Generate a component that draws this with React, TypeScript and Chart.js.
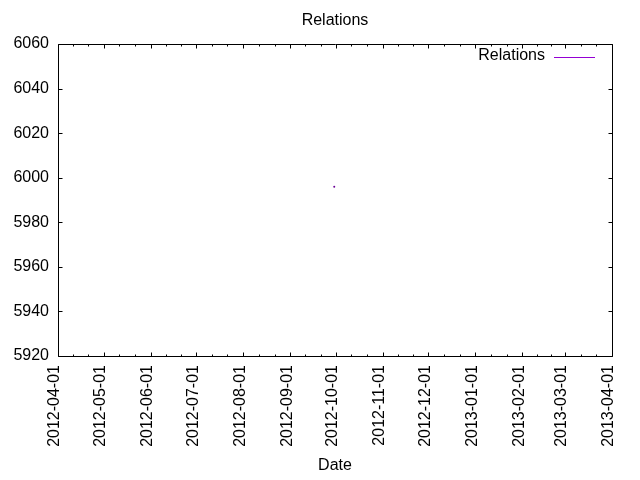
import React, { useEffect, useRef } from 'react';
import { Chart, registerables } from 'chart.js';

Chart.register(...registerables);

// x axis tick labels (month starts)
const monthLabels = [
  '2012-04-01', '2012-05-01', '2012-06-01', '2012-07-01', '2012-08-01', '2012-09-01',
  '2012-10-01', '2012-11-01', '2012-12-01', '2013-01-01', '2013-02-01', '2013-03-01', '2013-04-01',
];
// the single sample
const sampleDates = ['2012-09-30'];
const relationsValues = [5996];

const yMin = 5920;
const yMax = 6060;
const yStep = 20;

const DAY = 86400000;
const origin = Date.parse(monthLabels[0] + 'T00:00:00Z');
const toDays = (d: string) => (Date.parse(d + 'T00:00:00Z') - origin) / DAY;
const monthDays = monthLabels.map(toDays);

const FONT = "'Liberation Sans', Arial, sans-serif";
const FS = 16;
const LINE = '#9400d3';
const TITLE = 'Relations';

const framePlugin = {
  id: 'gnuFrame',
  afterDraw(chart: any) {
    const ctx = chart.ctx;
    const { left, right, top, bottom } = chart.chartArea;
    const xs = chart.scales.x;
    const ys = chart.scales.y;
    const px = (v: number) => Math.round(v) + 0.5;
    ctx.save();
    ctx.strokeStyle = '#000';
    ctx.lineWidth = 1;
    ctx.beginPath();
    ctx.rect(px(left), px(top), Math.round(right) - Math.round(left), Math.round(bottom) - Math.round(top));
    // x ticks (major + 2 minor per month), bottom and top, pointing inward
    monthDays.forEach((d, i) => {
      const x = px(xs.getPixelForValue(d));
      ctx.moveTo(x, px(bottom)); ctx.lineTo(x, px(bottom) - 4);
      ctx.moveTo(x, px(top)); ctx.lineTo(x, px(top) + 4);
      if (i < monthDays.length - 1) {
        const next = monthDays[i + 1];
        for (let k = 1; k < 3; k++) {
          const mx = px(xs.getPixelForValue(d + ((next - d) * k) / 3));
          ctx.moveTo(mx, px(bottom)); ctx.lineTo(mx, px(bottom) - 2);
          ctx.moveTo(mx, px(top)); ctx.lineTo(mx, px(top) + 2);
        }
      }
    });
    // y ticks, left and right
    for (let v = yMin; v <= yMax; v += yStep) {
      const y = px(ys.getPixelForValue(v));
      ctx.moveTo(px(left), y); ctx.lineTo(px(left) + 4, y);
      ctx.moveTo(px(right), y); ctx.lineTo(px(right) - 4, y);
    }
    ctx.stroke();

    ctx.font = `${FS}px ${FONT}`;
    ctx.fillStyle = '#000';
    ctx.textBaseline = 'middle';

    // title centred over the plot area
    ctx.textAlign = 'center';
    ctx.fillText(TITLE, (left + right) / 2, 21);

    // legend inside top right
    const label = chart.data.datasets[0].label;
    ctx.textAlign = 'right';
    ctx.fillText(label, right - 67, top + 12);
    ctx.strokeStyle = LINE;
    ctx.beginPath();
    ctx.moveTo(right - 58, px(top + 13));
    ctx.lineTo(right - 17, px(top + 13));
    ctx.stroke();
    ctx.restore();
  },
};

const App: React.FC = () => {
  const chartRef = useRef<HTMLCanvasElement>(null);

  useEffect(() => {
    document.body.style.margin = '0';
    if (!chartRef.current) return;

    const chart = new Chart(chartRef.current, {
      type: 'scatter',
      data: {
        datasets: [
          {
            label: 'Relations',
            data: sampleDates.map((d, i) => ({ x: toDays(d), y: relationsValues[i] })),
            borderColor: '#6a0096',
            backgroundColor: '#6a0096',
            pointRadius: 1,
            borderWidth: 0,
          },
        ],
      },
      options: {
        animation: false,
        responsive: true,
        maintainAspectRatio: false,
        layout: { padding: { left: 0, right: 28, top: 44, bottom: 0 } },
        plugins: {
          legend: { display: false },
          tooltip: { enabled: false },
          title: { display: false },
        },
        scales: {
          x: {
            type: 'linear',
            min: 0,
            max: monthDays[monthDays.length - 1],
            border: { display: false },
            grid: { display: false },
            afterBuildTicks: (scale: any) => {
              scale.ticks = monthDays.map((v) => ({ value: v }));
            },
            afterFit: (scale: any) => {
              scale.height = 124;
            },
            ticks: {
              autoSkip: false,
              minRotation: 90,
              maxRotation: 90,
              padding: 1,
              labelOffset: -3,
              color: '#000',
              font: { family: FONT, size: FS },
              callback: (value: any) => {
                const i = monthDays.indexOf(Number(value));
                return i >= 0 ? monthLabels[i] : '';
              },
            },
            title: {
              display: true,
              text: 'Date',
              color: '#000',
              font: { family: FONT, size: FS, lineHeight: 1.2 },
              padding: { top: 0, bottom: 5 },
            },
          },
          y: {
            min: yMin,
            max: yMax,
            border: { display: false },
            grid: { display: false },
            afterFit: (scale: any) => {
              scale.width = 58;
            },
            ticks: {
              stepSize: yStep,
              padding: 1,
              color: '#000',
              font: { family: FONT, size: FS },
              callback: (value: any) => String(value),
            },
          },
        },
      },
      plugins: [framePlugin],
    });

    return () => chart.destroy();
  }, []);

  return (
    <div style={{ width: 640, height: 480, background: '#fff' }}>
      <canvas ref={chartRef}></canvas>
    </div>
  );
};

export default App;
